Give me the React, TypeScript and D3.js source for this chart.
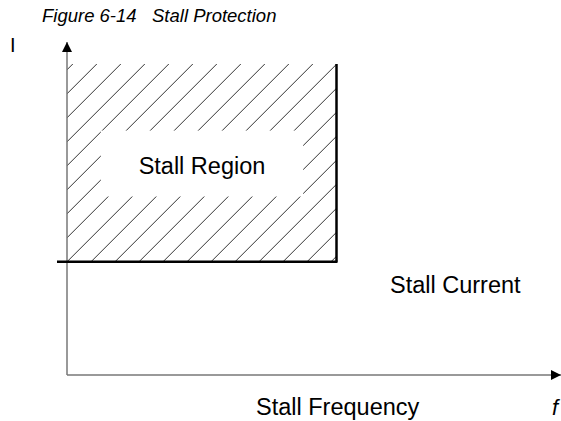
import React from "react";
import * as d3 from "d3";

// Conceptual data (normalized units)
const xDomain = [0, 100];
const yDomain = [0, 100];
const stallFrequency = [55]; // x where the stall region ends
const stallCurrent = [34]; // y of stall current threshold
const regionTop = [93.4];
const textBoxX = [6.9, 48.2];
const textBoxY = [53.6, 73.4];
const hatchStep = [24];
const titleText = ["Figure 6-14   Stall Protection"];
const labels = ["Stall Region", "Stall Current", "Stall Frequency"];
const axisLabels = ["I", "f"];

const W = 561;
const H = 421;

export default function App() {
  const x = d3.scaleLinear().domain(xDomain).range([67, 557]);
  const y = d3.scaleLinear().domain(yDomain).range([375, 42]);

  const rx0 = x(0);
  const rx1 = x(stallFrequency[0]);
  const ry0 = y(regionTop[0]);
  const ry1 = y(stallCurrent[0]);

  const step = hatchStep[0];
  const lines: number[] = d3.range(-20, 40).map((k) => rx0 + ry1 + step * k);

  const tbx0 = x(textBoxX[0]);
  const tbx1 = x(textBoxX[1]);
  const tby0 = y(textBoxY[1]);
  const tby1 = y(textBoxY[0]);

  const font = "'Liberation Sans', Arial, Helvetica, sans-serif";
  const fs = 23.5;

  return (
    <svg
      width={W}
      height={H}
      style={{ position: "absolute", left: 0, top: 0, display: "block" }}
    >
      <defs>
        <mask id="hatchMask">
          <rect x={rx0} y={ry0} width={rx1 - rx0} height={ry1 - ry0} fill="white" />
          <rect x={tbx0} y={tby0} width={tbx1 - tbx0} height={tby1 - tby0} fill="black" />
        </mask>
        <marker
          id="arrow"
          viewBox="0 0 10 10"
          refX="10"
          refY="5"
          markerWidth="10"
          markerHeight="10"
          markerUnits="userSpaceOnUse"
          orient="auto"
        >
          <path d="M0,0 L10,5 L0,10 z" fill="#000" />
        </marker>
      </defs>
      <rect width={W} height={H} fill="#fff" />
      <g mask="url(#hatchMask)">
        {lines.map((c, i) => (
          <line
            key={i}
            x1={c - ry1}
            y1={ry1}
            x2={c - ry0}
            y2={ry0}
            stroke="#333"
            strokeWidth={1}
          />
        ))}
      </g>
      {/* axes */}
      <line x1={x(0)} y1={y(0)} x2={x(0)} y2={y(100)} stroke="#777" strokeWidth={1.5} markerEnd="url(#arrow)" />
      <line x1={x(0)} y1={y(0)} x2={x(100) + 4} y2={y(0)} stroke="#777" strokeWidth={1.5} markerEnd="url(#arrow)" />
      {/* stall boundary */}
      <line x1={rx0 - 10} y1={ry1} x2={rx1 + 1} y2={ry1} stroke="#000" strokeWidth={2.5} />
      <line x1={rx1} y1={ry0} x2={rx1} y2={ry1} stroke="#000" strokeWidth={2.5} />
      {/* texts */}
      <text x={42} y={22} fontFamily={font} fontStyle="italic" fontSize={18.5} fill="#000" xmlSpace="preserve">
        {titleText[0]}
      </text>
      <text x={(tbx0 + tbx1) / 2} y={174} textAnchor="middle" fontFamily={font} fontSize={fs}>
        {labels[0]}
      </text>
      <text x={390} y={293} fontFamily={font} fontSize={fs}>
        {labels[1]}
      </text>
      <text x={256} y={415} fontFamily={font} fontSize={fs}>
        {labels[2]}
      </text>
      <text x={10} y={52} fontFamily={font} fontSize={20}>
        {axisLabels[0]}
      </text>
      <text x={552} y={415} fontFamily={font} fontStyle="italic" fontSize={22}>
        {axisLabels[1]}
      </text>
    </svg>
  );
}
